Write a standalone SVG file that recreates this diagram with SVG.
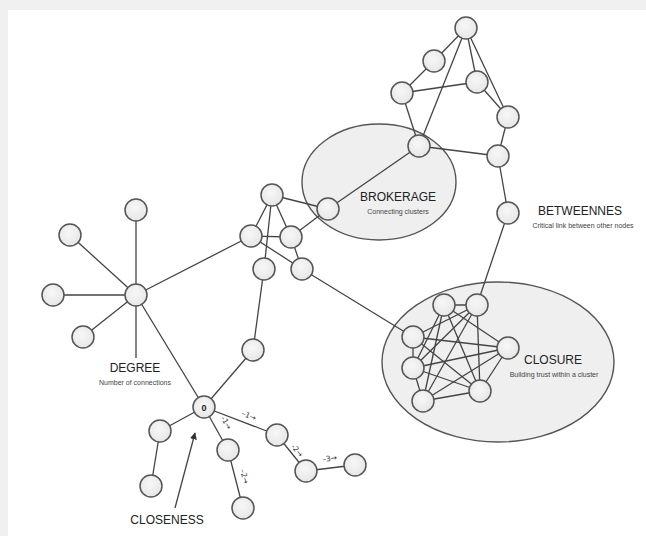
<svg xmlns="http://www.w3.org/2000/svg" width="646" height="536" viewBox="0 0 646 536">
<defs>
<radialGradient id="ng" cx="0.45" cy="0.4" r="0.7">
<stop offset="0" stop-color="#f7f7f7"/>
<stop offset="1" stop-color="#e4e4e4"/>
</radialGradient>
<marker id="ah" viewBox="0 0 10 10" refX="9" refY="5" markerWidth="7" markerHeight="7" orient="auto" markerUnits="userSpaceOnUse">
<path d="M0,0 L10,5 L0,10 z" fill="#333"/>
</marker>
</defs>
<style>
.n circle{fill:url(#ng);stroke:#555;stroke-width:1.5}
.e line{stroke:#444;stroke-width:1.3}
.zone{fill:#efefef;stroke:#555;stroke-width:1.4}
.t{font-family:"Liberation Sans",Arial,sans-serif;fill:#222;text-anchor:middle}
.big{font-size:12px}
.sm{font-size:7px;fill:#444}
.st{font-family:"DejaVu Sans",sans-serif;font-size:7.5px;fill:#333;text-anchor:middle}
</style>
<rect width="646" height="536" fill="#f0f0f0"/>
<rect x="8" y="10" width="638" height="526" fill="#ffffff"/>

<g id="zones">
<ellipse id="brokerage-zone" class="zone" cx="379" cy="182" rx="77" ry="58"/>
<ellipse id="closure-zone" class="zone" cx="498" cy="362" rx="116" ry="80"/>
</g>

<g id="connectors" class="e">
<!-- top cluster -->
<line x1="466" y1="28" x2="434" y2="61"/>
<line x1="434" y1="61" x2="402" y2="93"/>
<line x1="402" y1="93" x2="477" y2="82"/>
<line x1="466" y1="28" x2="477" y2="82"/>
<line x1="466" y1="28" x2="508" y2="117"/>
<line x1="466" y1="28" x2="419" y2="146"/>
<line x1="477" y1="82" x2="508" y2="117"/>
<line x1="402" y1="93" x2="419" y2="146"/>
<line x1="419" y1="146" x2="498" y2="156"/>
<line x1="508" y1="117" x2="498" y2="156"/>
<line x1="498" y1="156" x2="508" y2="213"/>
<line x1="419" y1="146" x2="328" y2="209"/>
<line x1="508" y1="213" x2="477" y2="305"/>
<!-- middle cluster -->
<line x1="272" y1="195" x2="251" y2="236"/>
<line x1="272" y1="195" x2="264" y2="269"/>
<line x1="272" y1="195" x2="291" y2="237"/>
<line x1="272" y1="195" x2="328" y2="209"/>
<line x1="251" y1="236" x2="291" y2="237"/>
<line x1="251" y1="236" x2="302" y2="269"/>
<line x1="291" y1="237" x2="302" y2="269"/>
<line x1="291" y1="237" x2="328" y2="209"/>
<line x1="264" y1="269" x2="253" y2="350"/>
<line x1="302" y1="269" x2="413" y2="337"/>
<line x1="251" y1="236" x2="136" y2="295"/>
<!-- degree -->
<line x1="136" y1="295" x2="136" y2="210"/>
<line x1="136" y1="295" x2="70" y2="235"/>
<line x1="136" y1="295" x2="53" y2="295"/>
<line x1="136" y1="295" x2="83" y2="337"/>
<line x1="136" y1="295" x2="136" y2="358"/>
<line x1="136" y1="295" x2="204" y2="407"/>
<!-- closeness -->
<line x1="253" y1="350" x2="204" y2="407"/>
<line x1="204" y1="407" x2="160" y2="431"/>
<line x1="160" y1="431" x2="151" y2="486"/>
<line x1="204" y1="407" x2="228" y2="450"/>
<line x1="228" y1="450" x2="243" y2="508"/>
<line x1="204" y1="407" x2="277" y2="435"/>
<line x1="277" y1="435" x2="306" y2="471"/>
<line x1="306" y1="471" x2="355" y2="465"/>
<line x1="175" y1="508" x2="195" y2="433" marker-end="url(#ah)"/>
<!-- closure cluster -->
<line x1="444" y1="305" x2="477" y2="305"/>
<line x1="413" y1="337" x2="413" y2="368"/>
<line x1="413" y1="337" x2="508" y2="348"/>
<line x1="413" y1="337" x2="480" y2="391"/>
<line x1="444" y1="305" x2="413" y2="368"/>
<line x1="444" y1="305" x2="423" y2="401"/>
<line x1="444" y1="305" x2="480" y2="391"/>
<line x1="444" y1="305" x2="508" y2="348"/>
<line x1="477" y1="305" x2="413" y2="337"/>
<line x1="477" y1="305" x2="413" y2="368"/>
<line x1="477" y1="305" x2="423" y2="401"/>
<line x1="477" y1="305" x2="480" y2="391"/>
<line x1="508" y1="348" x2="413" y2="368"/>
<line x1="508" y1="348" x2="423" y2="401"/>
<line x1="508" y1="348" x2="480" y2="391"/>
<line x1="413" y1="368" x2="423" y2="401"/>
<line x1="413" y1="368" x2="480" y2="391"/>
<line x1="423" y1="401" x2="480" y2="391"/>
</g>

<g id="step-labels">
<text class="st" transform="translate(248,418) rotate(21)">–1→</text>
<text class="st" transform="translate(224,424) rotate(60)">-1→</text>
<text class="st" transform="translate(242,477) rotate(75)">–2→</text>
<text class="st" transform="translate(295,452) rotate(51)">-2→</text>
<text class="st" transform="translate(330,461) rotate(-7)">–3→</text>
</g>

<g id="n-top1" class="n"><circle cx="466" cy="28" r="11"/></g>
<g id="n-top2" class="n"><circle cx="434" cy="61" r="11"/></g>
<g id="n-top3" class="n"><circle cx="477" cy="82" r="11"/></g>
<g id="n-top4" class="n"><circle cx="402" cy="93" r="11"/></g>
<g id="n-top5" class="n"><circle cx="508" cy="117" r="11"/></g>
<g id="n-broker-hub" class="n"><circle cx="419" cy="146" r="11"/></g>
<g id="n-top7" class="n"><circle cx="498" cy="156" r="11"/></g>
<g id="n-betweenness" class="n"><circle cx="508" cy="213" r="11"/></g>
<g id="n-broker" class="n"><circle cx="328" cy="209" r="11"/></g>

<g id="n-mid1" class="n"><circle cx="272" cy="195" r="11"/></g>
<g id="n-mid2" class="n"><circle cx="251" cy="236" r="11"/></g>
<g id="n-mid3" class="n"><circle cx="291" cy="237" r="11"/></g>
<g id="n-mid4" class="n"><circle cx="264" cy="269" r="11"/></g>
<g id="n-mid5" class="n"><circle cx="302" cy="269" r="11"/></g>
<g id="n-mid6" class="n"><circle cx="253" cy="350" r="11"/></g>

<g id="n-degree-hub" class="n"><circle cx="136" cy="295" r="11"/></g>
<g id="n-deg1" class="n"><circle cx="136" cy="210" r="11"/></g>
<g id="n-deg2" class="n"><circle cx="70" cy="235" r="11"/></g>
<g id="n-deg3" class="n"><circle cx="53" cy="295" r="11"/></g>
<g id="n-deg4" class="n"><circle cx="83" cy="337" r="11"/></g>

<g id="n-zero" class="n"><circle cx="204" cy="407" r="11"/><text class="t" x="204" y="410.5" style="font-size:9px;font-weight:bold">0</text></g>
<g id="n-c1" class="n"><circle cx="160" cy="431" r="11"/></g>
<g id="n-c2" class="n"><circle cx="151" cy="486" r="11"/></g>
<g id="n-c3" class="n"><circle cx="228" cy="450" r="11"/></g>
<g id="n-c4" class="n"><circle cx="243" cy="508" r="11"/></g>
<g id="n-c5" class="n"><circle cx="277" cy="435" r="11"/></g>
<g id="n-c6" class="n"><circle cx="306" cy="471" r="11"/></g>
<g id="n-c7" class="n"><circle cx="355" cy="465" r="11"/></g>

<g id="n-k1" class="n"><circle cx="444" cy="305" r="11"/></g>
<g id="n-k2" class="n"><circle cx="477" cy="305" r="11"/></g>
<g id="n-k3" class="n"><circle cx="413" cy="337" r="11"/></g>
<g id="n-k4" class="n"><circle cx="508" cy="348" r="11"/></g>
<g id="n-k5" class="n"><circle cx="413" cy="368" r="11"/></g>
<g id="n-k6" class="n"><circle cx="480" cy="391" r="11"/></g>
<g id="n-k7" class="n"><circle cx="423" cy="401" r="11"/></g>

<g id="labels">
<text class="t big" x="398" y="201">BROKERAGE</text>
<text class="t sm" x="398" y="214">Connecting clusters</text>
<text class="t big" x="580" y="215">BETWEENNES</text>
<text class="t sm" x="583" y="228">Critical link between other nodes</text>
<text class="t big" x="135" y="372">DEGREE</text>
<text class="t sm" x="135" y="385">Number of connections</text>
<text class="t big" x="553" y="364">CLOSURE</text>
<text class="t sm" x="554" y="377">Building trust within a cluster</text>
<text class="t big" x="167" y="524">CLOSENESS</text>
</g>
</svg>
